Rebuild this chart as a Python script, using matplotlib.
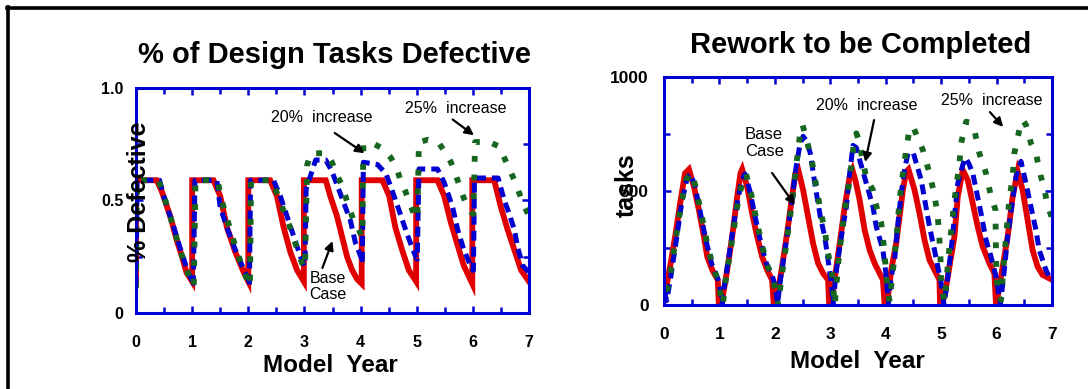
import matplotlib.pyplot as plt
import matplotlib as mpl
from matplotlib.lines import Line2D
from matplotlib.ticker import MultipleLocator

mpl.rcParams['font.family'] = ['Liberation Sans', 'DejaVu Sans']

RED = '#e00000'
BLUE = '#0000d0'
GREEN = '#17661f'

# ---- % of design tasks defective (one row per model year) ----
defect_t_base = [0, 0.0, 0.37, 0.46, 0.61, 0.73, 0.82, 0.90, 1.0,
                 1.0, 1.38, 1.50, 1.62, 1.77, 1.92, 2.0,
                 2.0, 2.39, 2.51, 2.63, 2.75, 2.87, 2.99,
                 2.99, 3.38, 3.46, 3.58, 3.67, 3.76, 3.85, 3.94, 4.02,
                 4.02, 4.39, 4.51, 4.62, 4.74, 4.86, 4.99,
                 4.99, 5.37, 5.49, 5.61, 5.73, 5.84, 5.99,
                 5.99, 6.38, 6.50, 6.62, 6.74, 6.86, 7.0]
defect_base = [0.13, 0.59, 0.59, 0.54, 0.43, 0.32, 0.25, 0.18, 0.14,
               0.59, 0.59, 0.52, 0.38, 0.27, 0.18, 0.14,
               0.59, 0.59, 0.52, 0.38, 0.27, 0.19, 0.14,
               0.59, 0.59, 0.52, 0.43, 0.34, 0.25, 0.19, 0.15, 0.13,
               0.59, 0.59, 0.52, 0.38, 0.28, 0.19, 0.14,
               0.59, 0.59, 0.52, 0.40, 0.30, 0.21, 0.13,
               0.59, 0.59, 0.47, 0.37, 0.28, 0.19, 0.14]

defect_t_20 = [0, 0.02, 0.42, 0.55, 0.64, 0.76, 0.85, 0.93, 1.01,
               1.02, 1.05, 1.44, 1.50, 1.62, 1.77, 1.89, 2.0,
               2.02, 2.04, 2.45, 2.57, 2.69, 2.81, 2.93, 3.0,
               3.01, 3.03, 3.20, 3.38, 3.49, 3.64, 3.82, 3.91, 4.02,
               4.03, 4.05, 4.30, 4.45, 4.54, 4.68, 4.83, 4.95, 5.0,
               5.01, 5.04, 5.37, 5.49, 5.64, 5.73, 5.84, 5.96, 6.0,
               6.01, 6.03, 6.45, 6.56, 6.62, 6.74, 6.80, 6.89, 7.0]
defect_20 = [0.12, 0.59, 0.59, 0.47, 0.41, 0.31, 0.24, 0.18, 0.14,
             0.12, 0.59, 0.59, 0.47, 0.38, 0.28, 0.21, 0.15,
             0.12, 0.59, 0.59, 0.52, 0.43, 0.34, 0.25, 0.21,
             0.21, 0.55, 0.68, 0.68, 0.63, 0.53, 0.41, 0.31, 0.24,
             0.22, 0.67, 0.66, 0.62, 0.56, 0.46, 0.35, 0.27, 0.24,
             0.24, 0.64, 0.64, 0.58, 0.47, 0.37, 0.28, 0.21, 0.19,
             0.19, 0.60, 0.60, 0.50, 0.46, 0.37, 0.29, 0.21, 0.18]

defect_t_25 = [0, 0.02, 0.40, 0.50, 0.62, 0.75, 0.85, 0.95, 1.02,
               1.03, 1.06, 1.45, 1.55, 1.68, 1.80, 1.92, 2.02,
               2.03, 2.05, 2.42, 2.50, 2.62, 2.73, 2.85, 2.96, 3.0,
               3.01, 3.05, 3.12, 3.38, 3.49, 3.58, 3.67, 3.79, 3.88, 3.97, 4.02,
               4.03, 4.05, 4.25, 4.40, 4.54, 4.65, 4.71, 4.80, 4.87, 4.95, 5.0,
               5.01, 5.04, 5.20, 5.38, 5.52, 5.61, 5.70, 5.84, 5.93, 6.0,
               6.01, 6.04, 6.29, 6.47, 6.56, 6.65, 6.74, 6.80, 6.89, 7.0]
defect_25 = [0.11, 0.59, 0.59, 0.52, 0.42, 0.31, 0.23, 0.16, 0.12,
             0.12, 0.59, 0.59, 0.48, 0.37, 0.27, 0.19, 0.12,
             0.12, 0.59, 0.59, 0.54, 0.46, 0.39, 0.30, 0.22, 0.20,
             0.20, 0.66, 0.71, 0.71, 0.67, 0.61, 0.57, 0.47, 0.41, 0.37, 0.34,
             0.34, 0.75, 0.75, 0.73, 0.69, 0.64, 0.59, 0.54, 0.49, 0.44, 0.42,
             0.42, 0.76, 0.77, 0.76, 0.71, 0.67, 0.61, 0.51, 0.46, 0.44,
             0.44, 0.76, 0.76, 0.74, 0.69, 0.64, 0.59, 0.55, 0.49, 0.43]

# ---- rework to be completed (tasks) ----
rework_t_base = [0, 0.12, 0.21, 0.30, 0.38, 0.45, 0.54, 0.63, 0.72, 0.78, 0.87, 0.97, 0.99,
                 1.0, 1.05, 1.14, 1.23, 1.32, 1.38, 1.41, 1.50, 1.59, 1.68, 1.77, 1.86, 1.95, 1.98,
                 1.99, 2.04, 2.13, 2.22, 2.31, 2.37, 2.42, 2.51, 2.60, 2.69, 2.78, 2.87, 2.96, 2.98,
                 2.99, 3.05, 3.17, 3.26, 3.35, 3.40, 3.46, 3.53, 3.62, 3.71, 3.80, 3.89, 3.95, 3.98,
                 3.99, 4.04, 4.10, 4.19, 4.25, 4.31, 4.37, 4.41, 4.52, 4.61, 4.70, 4.79, 4.91, 4.97, 4.98,
                 4.99, 5.06, 5.15, 5.24, 5.30, 5.39, 5.48, 5.57, 5.66, 5.75, 5.87, 5.96, 5.99,
                 6.0, 6.02, 6.11, 6.20, 6.29, 6.38, 6.47, 6.56, 6.65, 6.74, 6.83, 6.95, 7.0]
rework_base = [20, 183, 314, 460, 578, 595, 519, 417, 300, 212, 154, 110, 0,
               0, 22, 154, 300, 475, 578, 595, 519, 402, 300, 212, 154, 110, 0,
               0, 37, 168, 314, 475, 578, 595, 504, 387, 270, 183, 139, 110, 0,
               0, 66, 270, 431, 563, 592, 540, 460, 329, 241, 183, 139, 110, 0,
               0, 37, 154, 272, 387, 504, 585, 595, 504, 402, 285, 197, 139, 110, 0,
               0, 37, 168, 300, 475, 592, 548, 446, 343, 256, 183, 139, 0,
               0, 37, 168, 300, 475, 585, 504, 373, 241, 168, 132, 117, 110]

rework_t_20 = [0, 0.05, 0.12, 0.22, 0.32, 0.42, 0.48, 0.56, 0.66, 0.76, 0.86, 0.95, 1.0, 1.05,
               1.10, 1.20, 1.30, 1.40, 1.46, 1.55, 1.65, 1.75, 1.85, 1.95, 2.0, 2.05,
               2.10, 2.20, 2.30, 2.38, 2.45, 2.51, 2.57, 2.64, 2.73, 2.82, 2.90, 2.96, 3.02, 3.05,
               3.11, 3.20, 3.29, 3.35, 3.41, 3.47, 3.53, 3.65, 3.77, 3.83, 3.95, 4.01, 4.05,
               4.10, 4.16, 4.22, 4.28, 4.34, 4.40, 4.50, 4.64, 4.79, 4.88, 4.94, 5.0, 5.05,
               5.09, 5.18, 5.24, 5.30, 5.39, 5.44, 5.50, 5.57, 5.72, 5.81, 5.90, 5.99, 6.07,
               6.14, 6.20, 6.29, 6.35, 6.44, 6.53, 6.62, 6.71, 6.77, 6.89, 6.95, 7.0]
rework_20 = [60, 20, 120, 280, 450, 560, 575, 520, 400, 280, 180, 130, 90, 5,
             100, 260, 420, 545, 575, 500, 380, 270, 180, 130, 90, 5,
             110, 270, 440, 600, 700, 740, 720, 665, 519, 387, 300, 197, 95, 5,
             154, 300, 431, 578, 700, 690, 636, 534, 431, 343, 241, 124, 10,
             124, 197, 358, 490, 592, 665, 665, 548, 343, 241, 168, 95, 5,
             66, 241, 387, 534, 614, 645, 620, 578, 402, 285, 212, 124, 5,
             154, 300, 460, 563, 630, 534, 431, 329, 241, 154, 124, 110]

rework_t_25 = [0, 0.03, 0.10, 0.20, 0.30, 0.40, 0.50, 0.58, 0.68, 0.78, 0.88, 0.97, 1.03, 1.06,
               1.12, 1.22, 1.32, 1.42, 1.48, 1.57, 1.67, 1.77, 1.87, 1.96, 2.03, 2.06,
               2.12, 2.22, 2.32, 2.40, 2.46, 2.50, 2.58, 2.67, 2.76, 2.82, 2.90, 2.96, 3.03, 3.06, 3.08,
               3.15, 3.25, 3.35, 3.42, 3.47, 3.52, 3.56, 3.65, 3.77, 3.80, 3.92, 3.98, 4.01, 4.04, 4.07,
               4.13, 4.19, 4.25, 4.31, 4.37, 4.43, 4.50, 4.58, 4.67, 4.79, 4.88, 4.94, 4.97, 4.99, 5.0, 5.06,
               5.10, 5.15, 5.24, 5.33, 5.36, 5.45, 5.52, 5.60, 5.69, 5.81, 5.90, 5.98, 5.99, 6.02, 6.08,
               6.11, 6.17, 6.23, 6.29, 6.32, 6.41, 6.47, 6.53, 6.56, 6.62, 6.71, 6.80, 6.86, 6.90, 6.95, 7.0]
rework_25 = [80, 30, 120, 270, 430, 550, 580, 510, 390, 270, 170, 110, 30, 0,
             120, 270, 430, 550, 575, 490, 370, 260, 170, 120, 40, 0,
             120, 290, 470, 640, 760, 790, 720, 629, 504, 417, 329, 227, 139, 60, 0,
             200, 400, 548, 700, 753, 720, 665, 556, 504, 460, 358, 227, 124, 66, 15,
             150, 285, 460, 578, 680, 775, 780, 731, 680, 578, 482, 387, 285, 197, 95, 15,
             120, 256, 460, 621, 709, 804, 800, 767, 665, 578, 475, 417, 200, 40, 22,
             124, 300, 460, 563, 665, 767, 811, 790, 767, 709, 665, 563, 512, 460, 417, 380]

W, H = 1088, 389
fig = plt.figure(figsize=(W / 100, H / 100), dpi=100)


def px_box(left, top, right, bottom):
    return [left / W, 1 - bottom / H, (right - left) / W, (bottom - top) / H]


def style_axes(ax, ymax, ymajor, yminor, ylabels, ypad, fsize):
    ax.set_xlim(0, 7)
    ax.set_ylim(0, ymax)
    for sp in ax.spines.values():
        sp.set_color(BLUE)
        sp.set_linewidth(2.2)
    ax.xaxis.set_major_locator(MultipleLocator(1))
    ax.xaxis.set_minor_locator(MultipleLocator(0.5))
    ax.set_yticks(ymajor)
    ax.set_yticklabels(ylabels)
    ax.set_yticks(yminor, minor=True)
    ax.tick_params(which='both', direction='in', color=BLUE, width=1.8,
                   top=True, right=True)
    ax.tick_params(which='major', length=5)
    ax.tick_params(which='minor', length=4)
    ax.tick_params(axis='x', which='major', pad=16)
    ax.tick_params(axis='y', which='major', pad=ypad)
    for lab in ax.get_xticklabels() + ax.get_yticklabels():
        lab.set_fontweight('bold')
        lab.set_fontsize(fsize)


def draw_runs(ax, series):
    for t, v, color, lw, dashes in series:
        line, = ax.plot(t, v, color=color, lw=lw, solid_joinstyle='miter')
        if dashes:
            line.set_dashes(dashes)
            line.set_dash_capstyle('butt')


arrow = dict(arrowstyle='-|>', color='black', lw=1.6, mutation_scale=13,
             shrinkA=0, shrinkB=0)

# left panel
ax1 = fig.add_axes(px_box(136, 88, 529, 313))
draw_runs(ax1, [
    (defect_t_base, defect_base, RED, 4.2, None),
    (defect_t_20, defect_20, BLUE, 3.6, (2.0, 1.2)),
    (defect_t_25, defect_25, GREEN, 4.2, (1.0, 2.2)),
])
style_axes(ax1, 1.0, [0, 0.5, 1.0], [0.25, 0.75], ['0', '0.5', '1.0'], 9, 11.5)
ax1.text(3.30, 0.87, '20%  increase', ha='center', va='center', fontsize=11.5)
ax1.annotate('', xy=(4.07, 0.71), xytext=(3.54, 0.80), arrowprops=arrow)
ax1.text(5.70, 0.91, '25%  increase', ha='center', va='center', fontsize=11.5)
ax1.annotate('', xy=(6.02, 0.79), xytext=(5.64, 0.86), arrowprops=arrow)
ax1.text(3.09, 0.118, 'Base\nCase', ha='left', va='center', fontsize=11.5,
         linespacing=1.15, zorder=5)
ax1.annotate('', xy=(3.50, 0.32), xytext=(3.32, 0.20), arrowprops=arrow)

# right panel
ax2 = fig.add_axes(px_box(664, 77, 1052, 305))
draw_runs(ax2, [
    (rework_t_base, rework_base, RED, 4.2, None),
    (rework_t_20, rework_20, BLUE, 3.6, (2.0, 1.2)),
    (rework_t_25, rework_25, GREEN, 4.2, (1.0, 2.2)),
])
style_axes(ax2, 1000, [0, 500, 1000], [250, 750], ['0', '500', '1000'], 11, 12.5)
ax2.text(1.46, 711, 'Base\nCase', ha='left', va='center', fontsize=12,
         linespacing=1.15)
ax2.annotate('', xy=(2.36, 439), xytext=(1.95, 579), arrowprops=arrow)
ax2.text(3.66, 877, '20%  increase', ha='center', va='center', fontsize=11.5)
ax2.annotate('', xy=(3.63, 627), xytext=(3.79, 811), arrowprops=arrow)
ax2.text(5.92, 899, '25%  increase', ha='center', va='center', fontsize=11.5)
ax2.annotate('', xy=(6.12, 781), xytext=(5.88, 846), arrowprops=arrow)

# titles and axis labels
fig.text(335 / W, 1 - 55 / H, '% of Design Tasks Defective', ha='center',
         va='center', fontsize=21, fontweight='bold')
fig.text(861 / W, 1 - 45 / H, 'Rework to be Completed', ha='center',
         va='center', fontsize=21, fontweight='bold')
fig.text(139 / W, 1 - 192 / H, '% Defective', ha='center', va='center',
         rotation=90, fontsize=18, fontweight='bold')
fig.text(627 / W, 1 - 185 / H, 'tasks', ha='center', va='center',
         rotation=90, fontsize=18, fontweight='bold')
fig.text(330 / W, 1 - 365 / H, 'Model  Year', ha='center', va='center',
         fontsize=17.5, fontweight='bold')
fig.text(857 / W, 1 - 362 / H, 'Model  Year', ha='center', va='center',
         fontsize=17.5, fontweight='bold')

# frame around the slide
fig.add_artist(Line2D([7 / W, 1], [1 - 8 / H, 1 - 8 / H], color='black', lw=2.6))
fig.add_artist(Line2D([8 / W, 8 / W], [0, 1 - 7 / H], color='black', lw=2.6))

fig.savefig('out.png', dpi=100)
